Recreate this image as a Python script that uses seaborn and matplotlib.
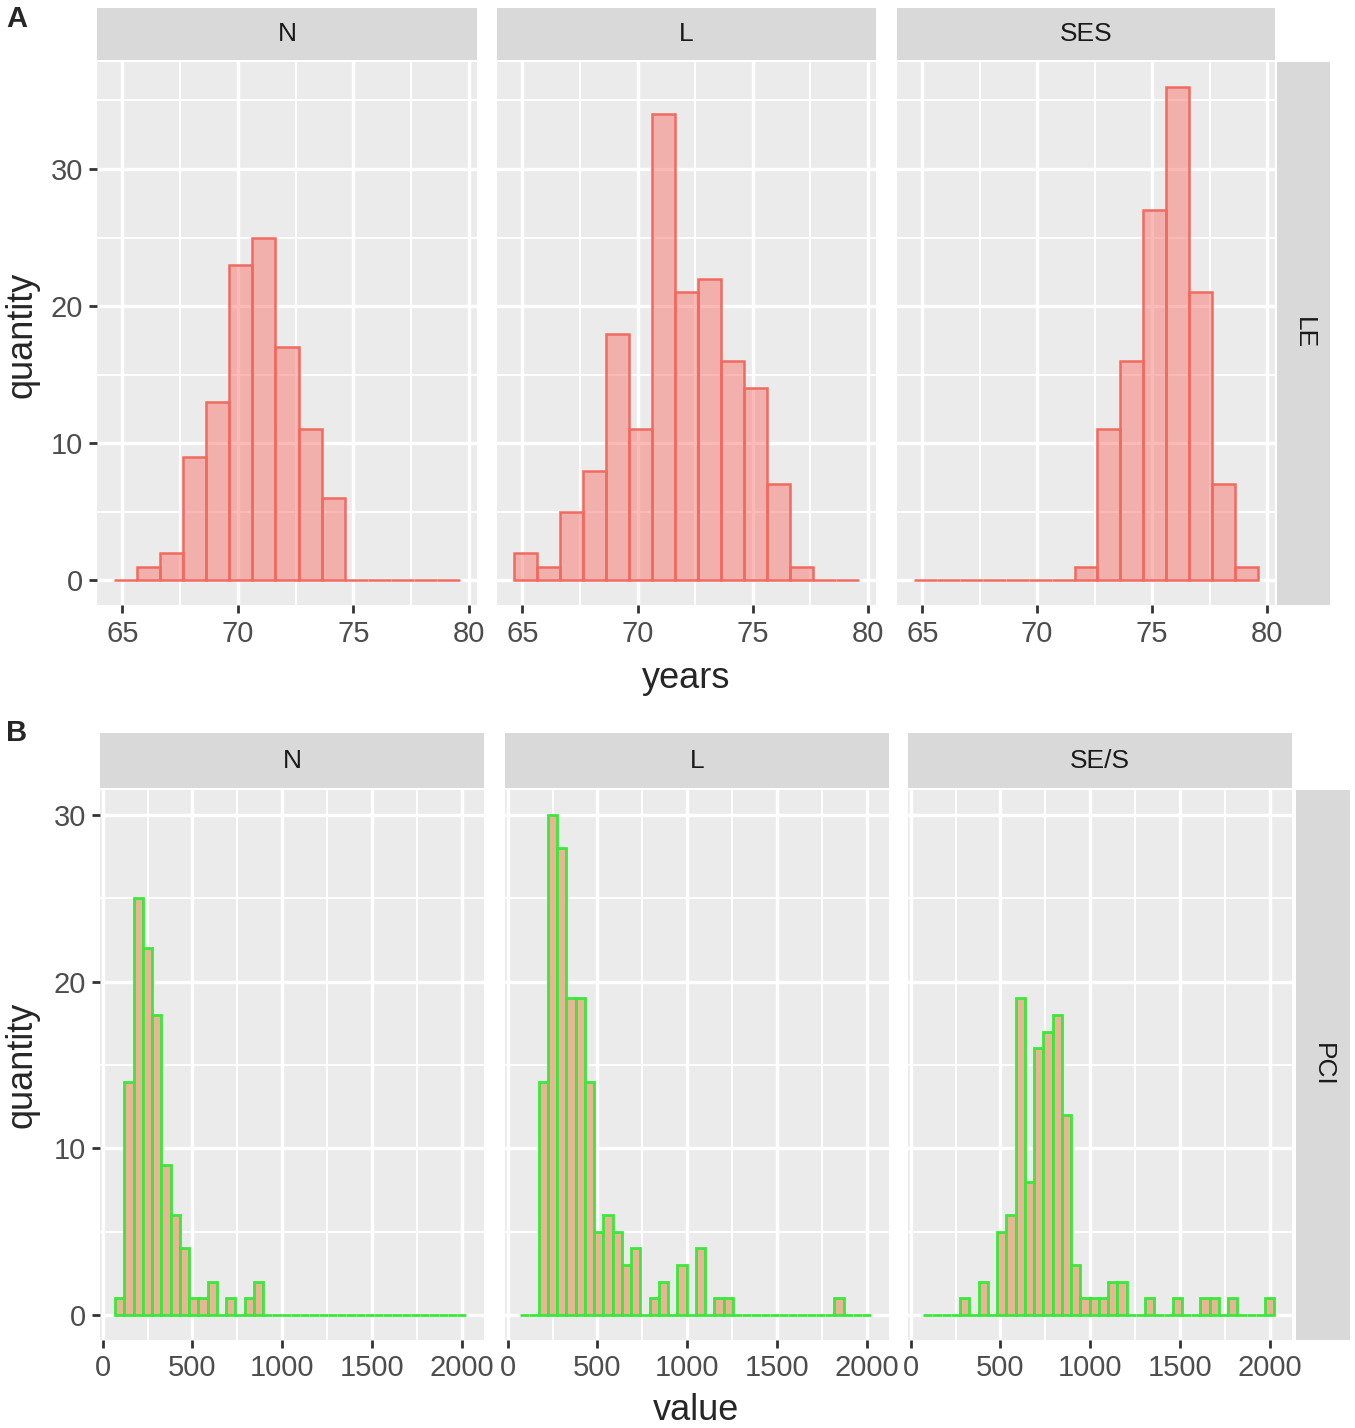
import numpy as np
import pandas as pd
import matplotlib
matplotlib.use("Agg")
import matplotlib.pyplot as plt
import seaborn as sns

sns.set_theme(style="darkgrid", rc={"axes.facecolor": "#EBEBEB", "grid.color": "white"})
plt.rcParams['font.family'] = ['Liberation Sans', 'DejaVu Sans']

# ---- panel A: life expectancy (years), 15 bins ----
le_edges = np.linspace(64.65, 79.6, 16)
le_groups = ["N", "L", "SES"]
le_N = [0, 1, 2, 9, 13, 23, 25, 17, 11, 6, 0, 0, 0, 0, 0]
le_L = [2, 1, 5, 8, 18, 11, 34, 21, 22, 16, 14, 7, 1, 0, 0]
le_SES = [0, 0, 0, 0, 0, 0, 0, 1, 11, 16, 27, 36, 21, 7, 1]

# ---- panel B: per capita income (value), 38 bins ----
pci_edges = np.linspace(70, 2027, 39)
pci_groups = ["N", "L", "SE/S"]
pci_N = [1, 14, 25, 22, 18, 9, 6, 4, 1, 1, 2, 0, 1, 0, 1, 2] + [0] * 22
pci_L = [0, 0, 14, 30, 28, 19, 19, 14, 5, 6, 5, 3, 4, 0, 1, 2, 0, 3, 0, 4, 0, 1, 1,
         0, 0, 0, 0, 0, 0, 0, 0, 0, 0, 0, 1, 0, 0, 0]
pci_SES = [0, 0, 0, 0, 1, 0, 2, 0, 5, 6, 19, 8, 16, 17, 18, 12, 3, 1, 1, 1, 2, 2,
           0, 0, 1, 0, 0, 1, 0, 0, 1, 1, 0, 1, 0, 0, 0, 1]

W, H = 1355, 1428
fig = plt.figure(figsize=(W / 100, H / 100), dpi=100)


def box(x0, y0, x1, y1):
    return [x0 / W, 1 - y1 / H, (x1 - x0) / W, (y1 - y0) / H]


def strip(rect, label, rot=0):
    s = fig.add_axes(box(*rect))
    s.set_facecolor("#D9D9D9")
    s.grid(False)
    s.set_xticks([])
    s.set_yticks([])
    for sp in s.spines.values():
        sp.set_visible(False)
    s.text(0.5, 0.5, label, transform=s.transAxes, ha="center", va="center",
           rotation=rot, fontsize=19, color="#1A1A1A")


def style(ax, xlim, ylim, xmaj, xmin, ymaj, ymin, first, xpad):
    ax.set_xlim(*xlim)
    ax.set_ylim(*ylim)
    ax.set_xticks(xmaj)
    ax.set_xticks(xmin, minor=True)
    ax.set_yticks(ymaj)
    ax.set_yticks(ymin, minor=True)
    ax.grid(which="major", color="white", lw=2.4)
    ax.grid(which="minor", color="white", lw=1.4)
    ax.set_axisbelow(True)
    ax.tick_params(which="major", length=6, width=2.0, color="#333333",
                   labelcolor="#4D4D4D", labelsize=21,
                   bottom=True, left=first, labelleft=first)
    ax.tick_params(axis="x", which="major", pad=xpad)
    ax.tick_params(axis="y", which="major", pad=4)
    ax.tick_params(which="minor", length=0)
    for sp in ax.spines.values():
        sp.set_visible(False)
    ax.set_xlabel("")
    ax.set_ylabel("")


# panel A
a_boxes = [(97, 62, 477, 605), (497, 62, 876, 605), (897, 62, 1275, 605)]
le_centers = (le_edges[:-1] + le_edges[1:]) / 2
for i, (name, counts) in enumerate(zip(le_groups, [le_N, le_L, le_SES])):
    b = a_boxes[i]
    ax = fig.add_axes(box(*b))
    df = pd.DataFrame({"x": le_centers, "n": counts})
    sns.histplot(data=df, x="x", weights="n", bins=list(le_edges), ax=ax,
                 color="#F8766D", alpha=0.5, linewidth=1.8, edgecolor="#F06A60")
    style(ax, (63.9, 80.35), (-1.8, 37.8), [65, 70, 75, 80], [67.5, 72.5, 77.5],
          [0, 10, 20, 30], [5, 15, 25, 35], i == 0, 5)
    strip((b[0], 8, b[2], 60), name)
strip((1277, 62, 1330, 605), "LE", rot=-90)

# panel B
b_boxes = [(100, 790, 484, 1340), (505, 790, 889, 1340), (908, 790, 1292, 1340)]
pci_centers = (pci_edges[:-1] + pci_edges[1:]) / 2
for i, (name, counts) in enumerate(zip(pci_groups, [pci_N, pci_L, pci_SES])):
    b = b_boxes[i]
    ax = fig.add_axes(box(*b))
    df = pd.DataFrame({"x": pci_centers, "n": counts})
    sns.histplot(data=df, x="x", weights="n", bins=list(pci_edges), ax=ax,
                 facecolor="#E9B595", edgecolor="#3BE83B", linewidth=2.0)
    style(ax, (-15, 2125), (-1.5, 31.5), [0, 500, 1000, 1500, 2000],
          [250, 750, 1250, 1750], [0, 10, 20, 30], [5, 15, 25], i == 0, 4)
    strip((b[0], 733, b[2], 788), name)
strip((1296, 790, 1350, 1340), "PCI", rot=-90)

# labels
fig.text(6 / W, 1 - 19 / H, "A", fontsize=21, fontweight="bold", ha="left", va="center")
fig.text(6 / W, 1 - 733 / H, "B", fontsize=21, fontweight="bold", ha="left", va="center")
fig.text(22 / W, 1 - 335 / H, "quantity", fontsize=26, rotation=90, ha="center", va="center")
fig.text(22 / W, 1 - 1065 / H, "quantity", fontsize=26, rotation=90, ha="center", va="center")
fig.text(686 / W, 1 - 679 / H, "years", fontsize=26, ha="center", va="center")
fig.text(696 / W, 1 - 1411 / H, "value", fontsize=26, ha="center", va="center")

fig.savefig("out.png", dpi=100, facecolor="white")
